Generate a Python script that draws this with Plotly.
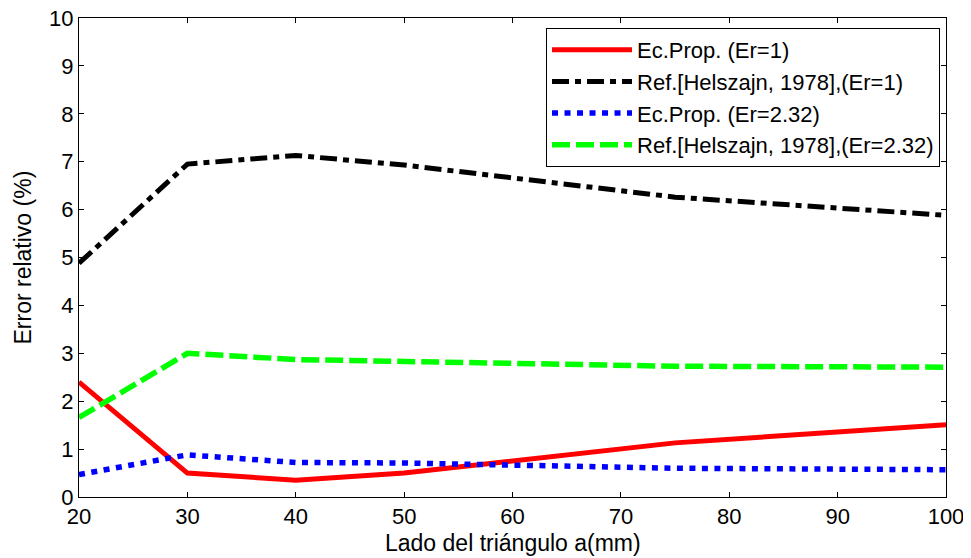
import plotly.graph_objects as go

x = [20, 30, 40, 50, 75, 100]
ec_prop_er1 = [2.40, 0.50, 0.35, 0.50, 1.13, 1.51]
ref_er1 = [4.88, 6.95, 7.13, 6.93, 6.26, 5.88]
ec_prop_er232 = [0.47, 0.88, 0.72, 0.71, 0.60, 0.57]
ref_er232 = [1.66, 3.00, 2.87, 2.83, 2.73, 2.71]

names = ["Ec.Prop. (Er=1)", "Ref.[Helszajn, 1978],(Er=1)",
         "Ec.Prop. (Er=2.32)", "Ref.[Helszajn, 1978],(Er=2.32)"]

FS = 22
LW = 5

fig = go.Figure()
fig.add_trace(go.Scatter(x=x, y=ec_prop_er1, mode="lines", name=names[0], legendgroup="a",
                         line=dict(color="#ff0000", width=LW)))
fig.add_trace(go.Scatter(x=x, y=ref_er1, mode="lines", name=names[1], legendgroup="b",
                         line=dict(color="#000000", width=LW, dash="17px,6px,6px,6px")))
fig.add_trace(go.Scatter(x=x, y=ec_prop_er232, mode="lines", name=names[2], legendgroup="c",
                         line=dict(color="#0000ff", width=LW + 0.5, dash="6px,6.5px")))
fig.add_trace(go.Scatter(x=x, y=ref_er232, mode="lines", name=names[3], legendgroup="d",
                         line=dict(color="#00ff00", width=LW + 0.5, dash="18px,6px")))

axis_common = dict(showgrid=False, zeroline=False, showline=True, linecolor="black",
                   linewidth=1, mirror="ticks", ticks="inside", ticklen=5,
                   tickcolor="black", tickfont=dict(size=FS, color="black"),
                   automargin=False, ticklabeloverflow="allow")

# page body has an 8px default margin, so the figure is offset by 8px
fig.update_layout(
    width=963, height=550,
    margin=dict(l=71, r=25, t=10, b=61),
    paper_bgcolor="white", plot_bgcolor="white",
    font=dict(family="Liberation Sans, Arial, sans-serif", size=FS, color="black"),
    xaxis=dict(range=[20, 100], dtick=10, tick0=20, **axis_common),
    yaxis=dict(range=[0, 10], dtick=1, tick0=0, **axis_common),
    legend=dict(x=0.9931, y=0.979, xanchor="right", yanchor="top",
                bgcolor="white", bordercolor="black", borderwidth=1,
                font=dict(size=22), tracegroupgap=1, traceorder="normal",
                itemwidth=80),
    showlegend=True,
    annotations=[
        dict(text="Lado del triángulo a(mm)", xref="paper", yref="paper",
             x=0.5, y=-46 / 479, xanchor="center", yanchor="middle",
             showarrow=False, font=dict(size=23)),
        dict(text="Error relativo (%)", xref="paper", yref="paper",
             x=-57 / 867, y=0.5, xanchor="center", yanchor="middle",
             textangle=-90, showarrow=False, font=dict(size=23)),
    ],
)

fig.write_html("out.html")
